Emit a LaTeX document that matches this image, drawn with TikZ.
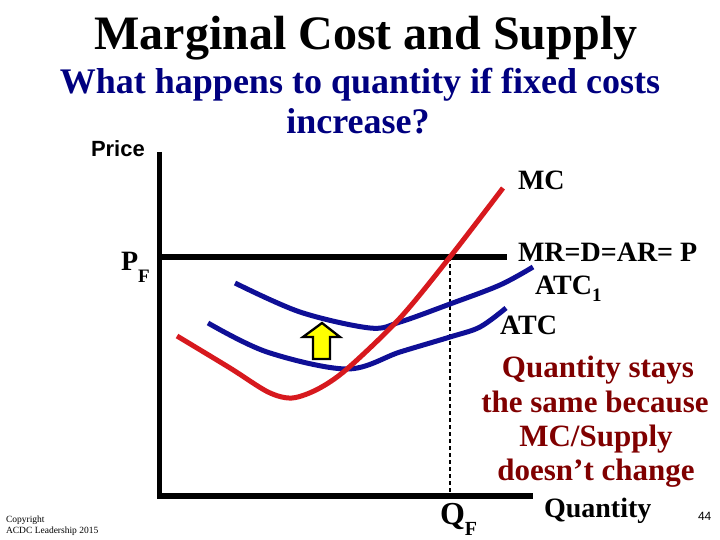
\documentclass[tikz,border=0pt]{standalone}
\usepackage{fontspec}
\setmainfont{Liberation Serif}
\newfontfamily\arialfont{Liberation Sans}
\definecolor{mcred}{RGB}{215,25,30}
\definecolor{atcblue}{RGB}{15,15,150}
\definecolor{navytext}{RGB}{0,0,128}
\definecolor{maroontext}{RGB}{128,0,0}
\definecolor{arrowyellow}{RGB}{255,255,0}
\tikzset{
  lbl/.style={inner sep=0pt, outer sep=0pt, anchor=base west},
  ctr/.style={inner sep=0pt, outer sep=0pt, anchor=base},
  axisline/.style={line width=5.5pt, line join=miter},
  mccurve/.style={draw=mcred, line width=5pt},
  atccurve/.style={draw=atcblue, line width=5pt},
  guide/.style={line width=1.2pt, dash pattern=on 4pt off 3pt},
  bigbold/.style={font=\fontsize{28}{30}\selectfont\bfseries},
  notetext/.style={ctr, text=maroontext, font=\fontsize{31}{33}\selectfont\bfseries},
}
\begin{document}
\begin{tikzpicture}[x=1pt, y=-1pt]
\useasboundingbox (0,0) rectangle (720,540);
% titles
\node[ctr] (title) at (366,50) {\fontsize{48}{50}\selectfont\bfseries Marginal Cost and Supply};
\node[ctr, text=navytext] (sub1) at (360,94) {\fontsize{36}{38}\selectfont\bfseries What happens to quantity if fixed costs};
\node[ctr, text=navytext] (sub2) at (358,134) {\fontsize{36}{38}\selectfont\bfseries increase?};
% axes
\coordinate (ytop) at (159.5,152);
\coordinate (origin) at (159.5,496);
\coordinate (xend) at (533,496);
\draw[axisline] (ytop) -- (origin) -- (xend);
\coordinate (pfleft) at (159.5,257);
\coordinate (pfright) at (507,257);
\draw[axisline] (pfleft) -- (pfright);
\coordinate (qtop) at (450,257);
\coordinate (qbot) at (450,496);
\draw[guide] (qtop) -- (qbot);
% curves
\draw[atccurve] plot[smooth, tension=0.55] coordinates {(235,283) (300,312) (370,328) (400,322) (450,304) (500,285) (533,267)};
\draw[atccurve] plot[smooth, tension=0.55] coordinates {(208,323) (267,352) (347,369) (400,352) (450,337) (480,327) (506,308)};
\draw[mccurve] plot[smooth, tension=0.5] coordinates {(177,336) (230,368) (268,392) (292,398) (318,389) (347,369) (400,318) (450,257) (503,188)};
% arrow
\draw[fill=arrowyellow, line width=2.3pt, line join=miter] (322,323) -- (340,337) -- (330,337) -- (330,359) -- (313,359) -- (313,337) -- (303,337) -- cycle;
% labels
\node[lbl] (price) at (91,157) {\arialfont\fontsize{22}{23}\selectfont\bfseries Price};
\node[lbl, bigbold] (pf) at (121,270) {P\raisebox{-12pt}{\fontsize{19}{19}\selectfont F}};
\node[lbl, bigbold] (mc) at (518,190) {MC};
\node[lbl, bigbold] (mr) at (518,261) {MR=D=AR= P};
\node[lbl, bigbold] (atc1) at (535,294) {ATC\raisebox{-7pt}{\fontsize{19}{19}\selectfont 1}};
\node[lbl, bigbold] (atc) at (500,334) {ATC};
\node[notetext] (note1) at (598,377) {Quantity stays};
\node[notetext] (note2) at (595,412) {the same because};
\node[notetext] (note3) at (596,446) {MC/Supply};
\node[notetext] (note4) at (596,480) {doesn’t change};
\node[lbl, bigbold] (quantity) at (544,517) {Quantity};
\node[lbl, font=\fontsize{32}{34}\selectfont\bfseries] (qf) at (440,524) {Q\raisebox{-11pt}{\fontsize{20}{20}\selectfont F}};
\node[lbl] (pagenum) at (698,520) {\arialfont\fontsize{12}{12}\selectfont 44};
\node[lbl, font=\fontsize{9.5}{10}\selectfont] (copy1) at (6,522) {Copyright};
\node[lbl, font=\fontsize{9.5}{10}\selectfont] (copy2) at (6,533) {ACDC Leadership 2015};
\end{tikzpicture}
\end{document}
